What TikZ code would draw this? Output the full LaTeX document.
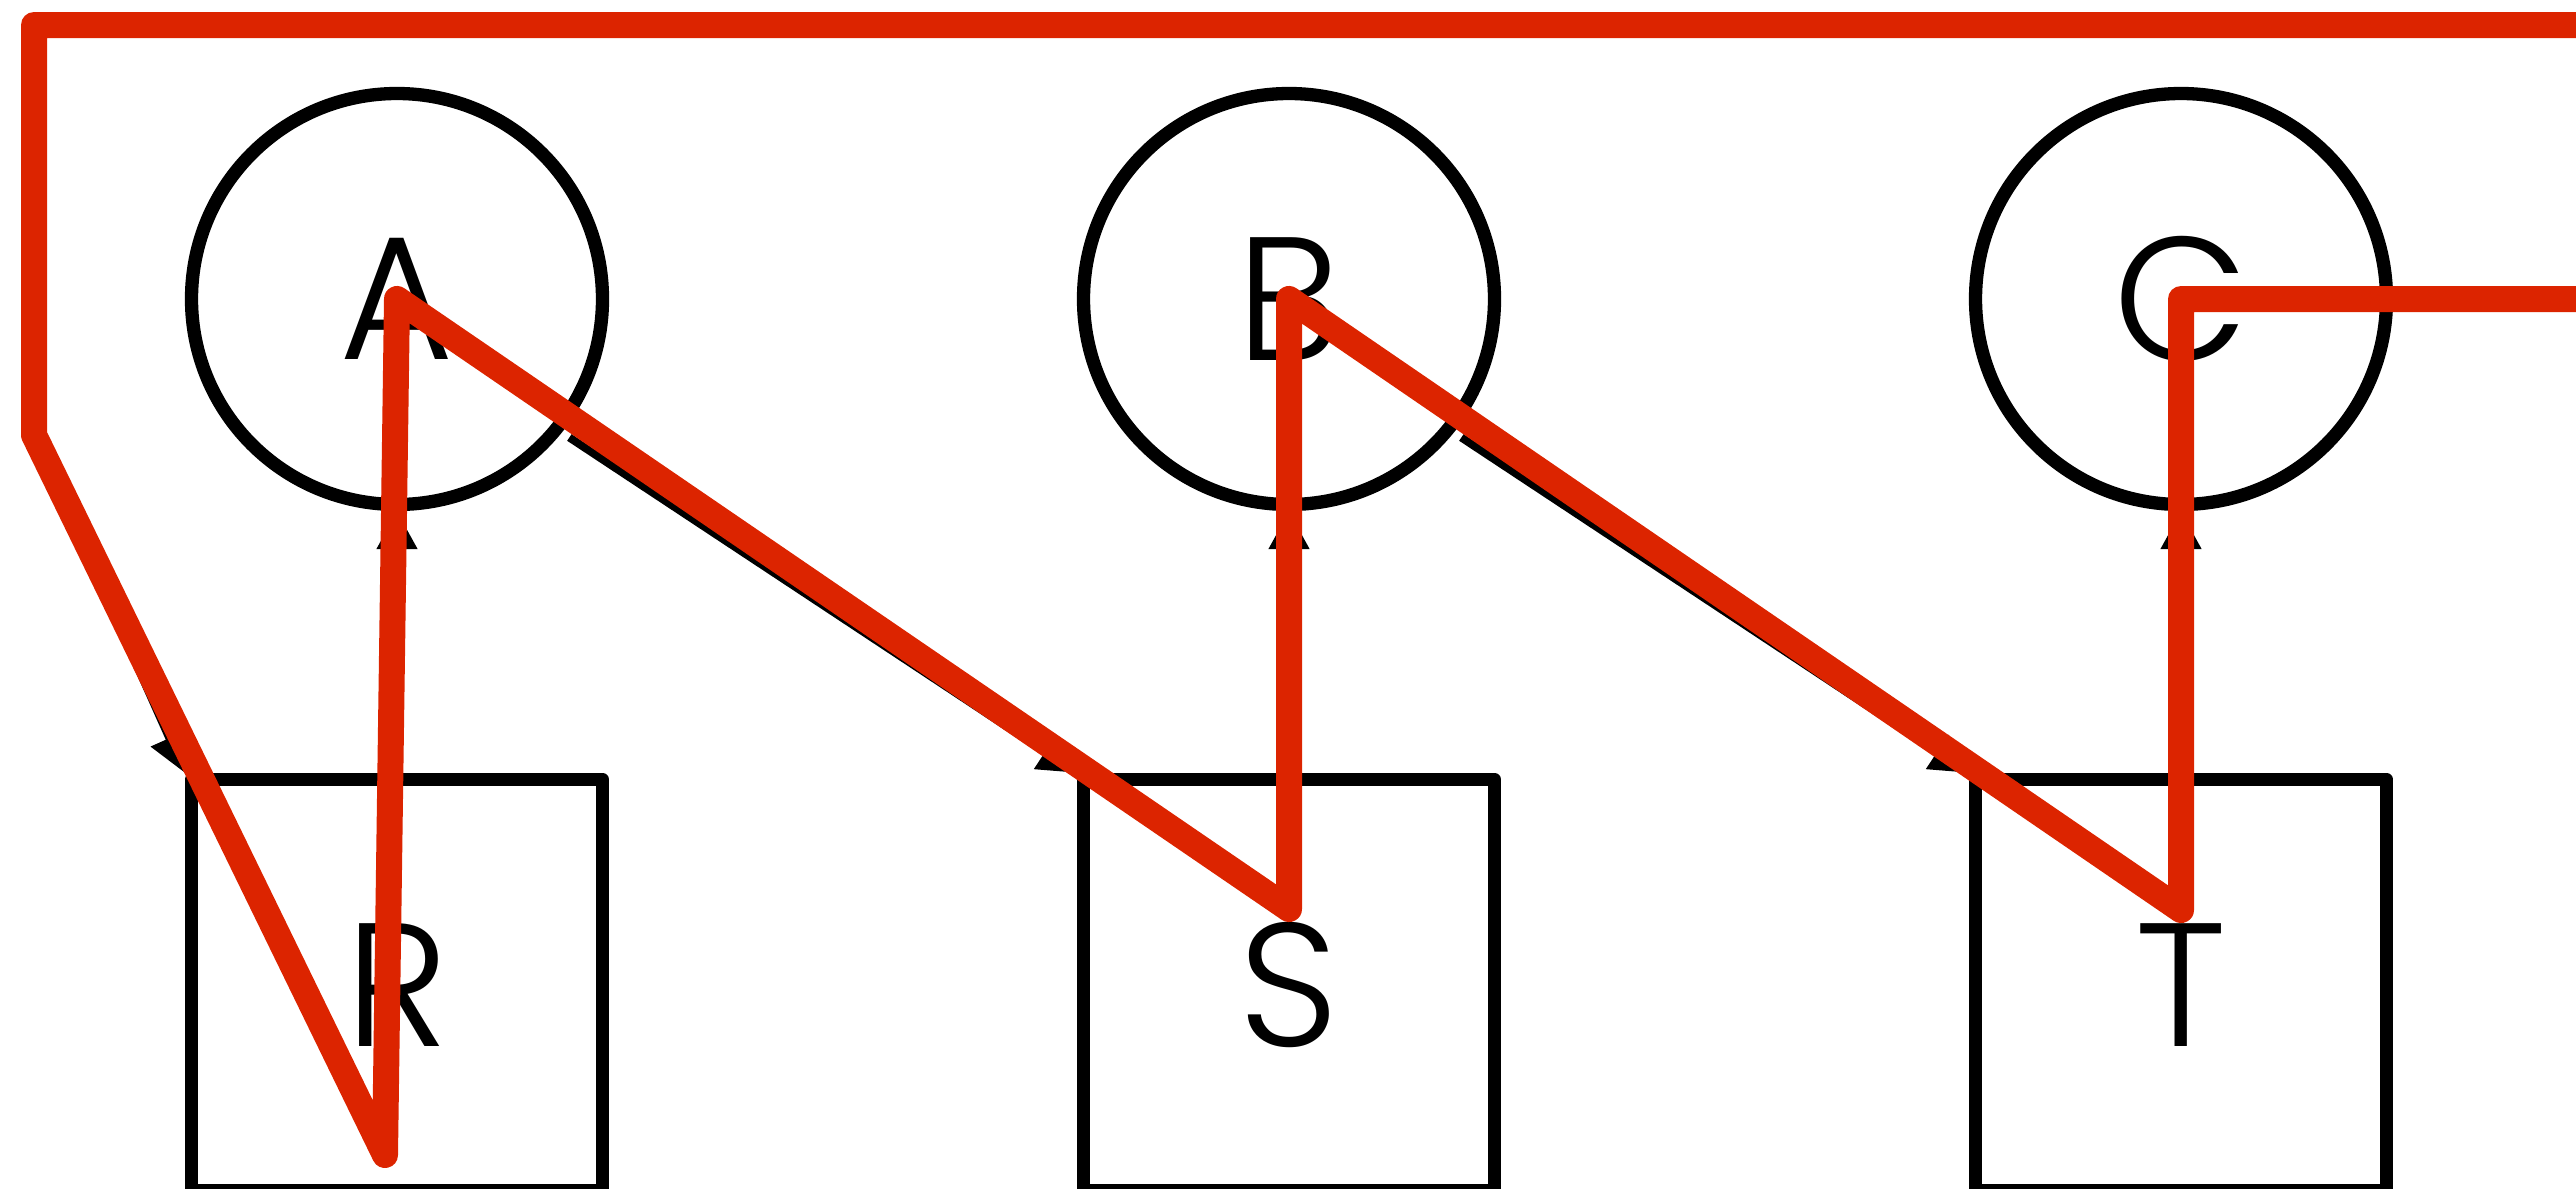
\documentclass[tikz,border=0pt]{standalone}
\usepackage{fontspec}
\newfontfamily\labelfont{Poppins Light}
\usetikzlibrary{arrows.meta,calc}
\definecolor{routered}{RGB}{220,36,0}

\begin{document}
\begin{tikzpicture}[x=0.1mm,y=-0.1mm,
  state/.style={circle,draw,line width=1.33mm,minimum size=41.1mm,inner sep=0pt,
    font=\labelfont\fontsize{50}{60}\selectfont},
  block/.style={rectangle,draw,line width=1.33mm,line join=round,minimum size=41.1mm,
    inner sep=0pt,font=\labelfont\fontsize{50}{60}\selectfont},
  edge/.style={line width=0.8mm,-{Triangle[length=3.8mm,width=3.9mm]}},
  route/.style={routered,line width=2.6mm,line join=round,line cap=round}]
  \useasboundingbox (0,0) rectangle (2576,1188);

  % top row and bottom row
  \foreach \n/\x in {A/397,B/1289,C/2181}
    \node[state] (\n) at (\x,299) {\n};
  \foreach \n/\x in {R/397,S/1289,T/2181}
    \node[block] (\n) at (\x,985) {\n};

  % route ends and bends
  \coordinate (out1) at (2700,25);
  \coordinate (nw) at (34,25);
  \coordinate (wbend) at (34,435);
  \coordinate (wrap) at (42,452);
  \coordinate (out2) at (2700,299);

  % edges
  \draw[edge] (wrap) -- (R.north west);
  \draw[edge] (R.north) -- (A.south);
  \draw[edge,shorten <=0.9mm] (A.-39) -- (S.north west);
  \draw[edge] (S.north) -- (B.south);
  \draw[edge,shorten <=0.9mm] (B.-39) -- (T.north west);
  \draw[edge] (T.north) -- (C.south);

  % highlighted route
  \draw[route] (out1) -- (nw) -- (wbend) -- ($(R)+(-12,170)$) -- (A.center)
    -- ($(S)+(0,-76)$) -- (B.center) -- ($(T)+(0,-75)$) -- (C.center) -- (out2);
\end{tikzpicture}
\end{document}
